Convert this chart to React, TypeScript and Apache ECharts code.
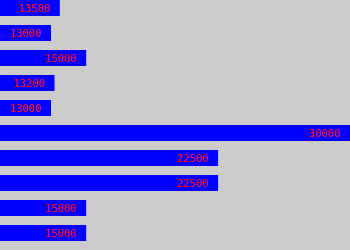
import React, { useEffect, useRef } from "react";
import * as echarts from "echarts";

const categories = ["1", "2", "3", "4", "5", "6", "7", "8", "9", "10"];
const values = [13500, 13000, 15000, 13200, 13000, 30000, 22500, 22500, 15000, 15000];

export default function App() {
  const ref = useRef<HTMLDivElement>(null);
  useEffect(() => {
    const chart = echarts.init(ref.current!, null, { renderer: "svg" });
    chart.setOption({
      animation: false,
      backgroundColor: "#cccccc",
      grid: {
        left: 0,
        right: 0,
        top: -4.5,
        height: 250,
        containLabel: false,
        outerBoundsMode: "none",
      },
      xAxis: { type: "value", min: 10100, max: 30000, show: false },
      yAxis: { type: "category", data: categories, inverse: true, show: false },
      series: [
        {
          type: "bar",
          data: values,
          barWidth: 16,
          itemStyle: { color: "#0000ff" },
          label: {
            show: true,
            position: "insideRight",
            distance: 10,
            color: "#ff0000",
            fontSize: 10.5,
            fontFamily: "DejaVu Sans Mono",
          },
        },
      ],
    });
    return () => chart.dispose();
  }, []);
  return (
    <div
      ref={ref}
      style={{ position: "fixed", left: 0, top: 0, width: 350, height: 250 }}
    />
  );
}
